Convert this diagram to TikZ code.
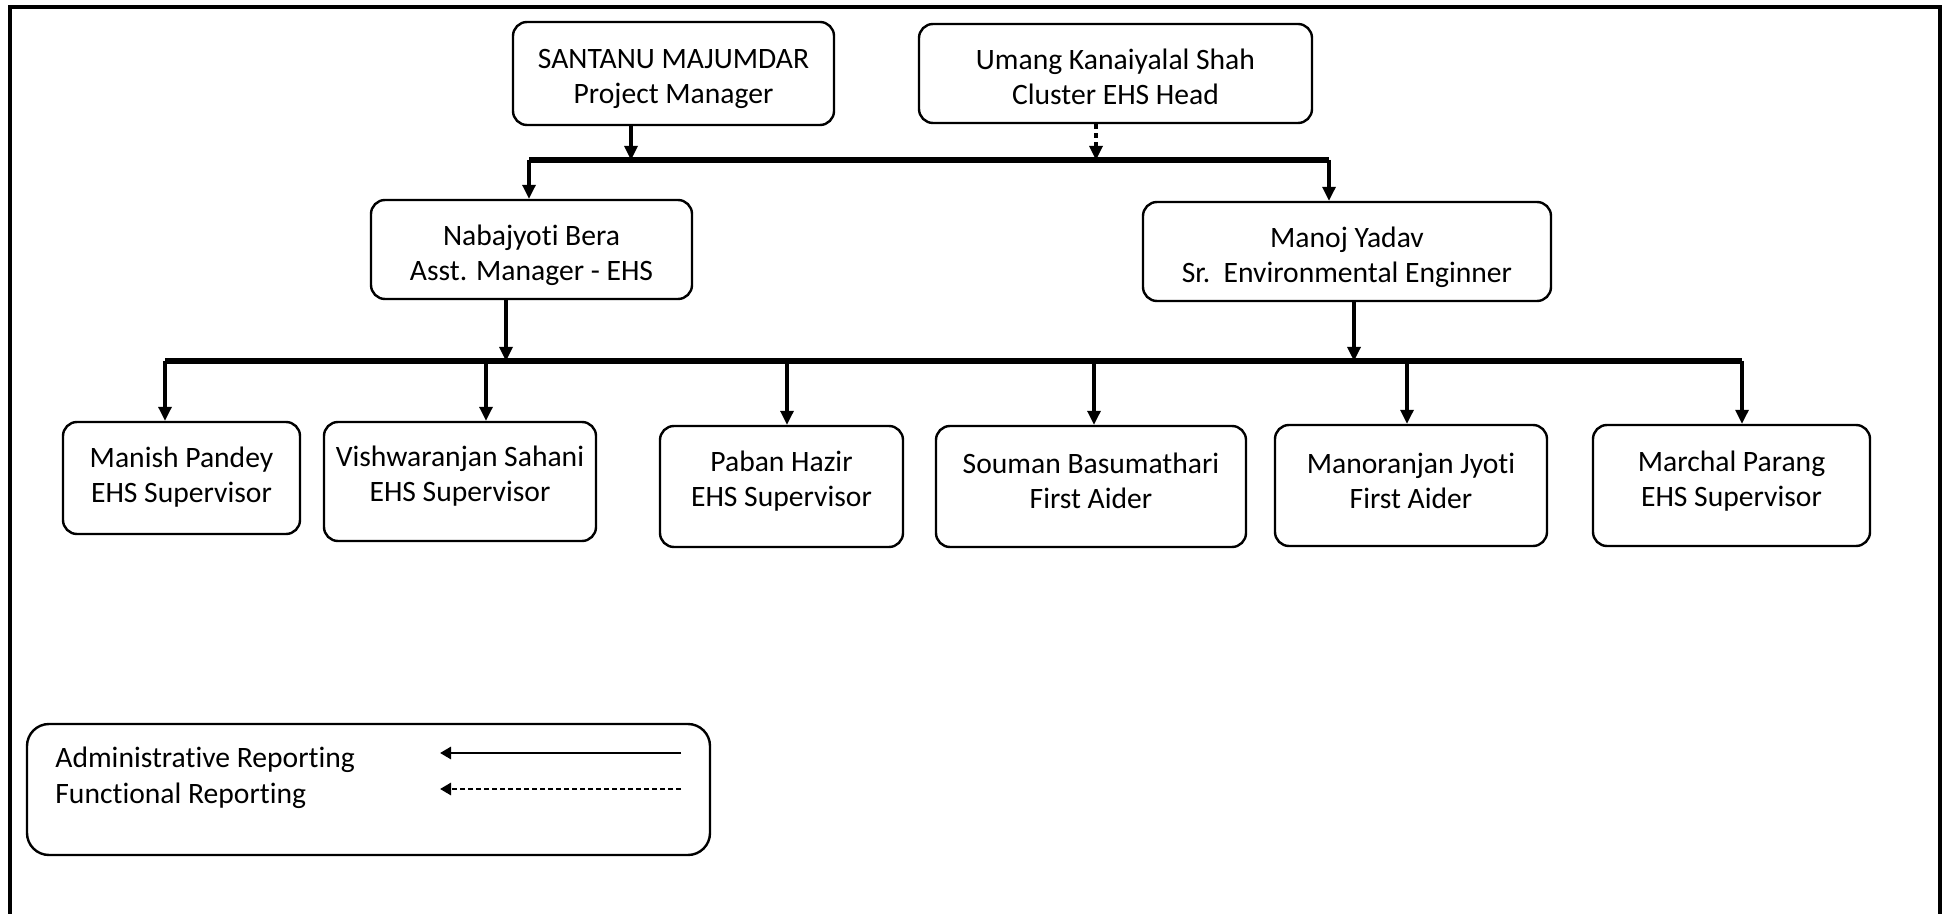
\documentclass[tikz,border=0pt]{standalone}
\usepackage{fontspec}
\setmainfont{Carlito}[Ligatures=CommonOff]
\usetikzlibrary{arrows.meta}
\begin{document}
\begin{tikzpicture}[x=0.5pt,y=-0.5pt,
  person/.style={draw,line width=1.2pt,rounded corners=7pt,inner sep=0pt},
  persontext/.style={align=center,font=\fontsize{14.8pt}{17.5pt}\selectfont,inner sep=0pt},
  bar/.style={line width=2.9pt},
  rep/.style={line width=1.6pt,-{Triangle[length=7pt,width=6.5pt]}},
  fun/.style={rep,dash pattern=on 2.5pt off 2pt},
  legtext/.style={anchor=west,font=\fontsize{14.8pt}{17.5pt}\selectfont,inner sep=0pt},
  legarrow/.style={line width=1.4pt,-{Triangle[length=5.5pt,width=6pt]}}]
\useasboundingbox (0,0) rectangle (1944,914);
% outer frame, open at the bottom
\draw[line width=2pt] (10,914) -- (10,7) -- (1940,7) -- (1940,914);

% management
\node[person,minimum width=160.5pt,minimum height=51.5pt] (santanu) at (673.5,73.5) {};
\node[persontext] (santanuT) at (673.5,79) {SANTANU MAJUMDAR\\Project Manager};
\node[person,minimum width=196.5pt,minimum height=49.5pt] (umang) at (1115.5,73.5) {};
\node[persontext] (umangT) at (1115.5,77) {Umang Kanaiyalal Shah\\Cluster EHS Head};
\node[person,minimum width=160.5pt,minimum height=49.5pt] (nabajyoti) at (531.5,249.5) {};
\node[persontext] (nabajyotiT) at (531.5,255) {Nabajyoti Bera\\Asst. Manager - EHS};
\node[person,minimum width=204pt,minimum height=49.5pt] (manoj) at (1347,251.5) {};
\node[persontext] (manojT) at (1347,257) {Manoj Yadav\\Sr.\ \ Environmental Enginner};

% field staff
\node[person,minimum width=118.5pt,minimum height=56pt] (manish) at (181.5,478) {};
\node[persontext] (manishT) at (181.5,477) {Manish Pandey\\EHS Supervisor};
\node[person,minimum width=136pt,minimum height=59.5pt] (vish) at (460,481.5) {};
\node[persontext] (vishT) at (460,476) {Vishwaranjan Sahani\\EHS Supervisor};
\node[person,minimum width=121.5pt,minimum height=60.5pt] (paban) at (781.5,486.5) {};
\node[persontext] (pabanT) at (781.5,481) {Paban Hazir\\EHS Supervisor};
\node[person,minimum width=155pt,minimum height=60.5pt] (souman) at (1091,486.5) {};
\node[persontext] (soumanT) at (1091,481) {Souman Basumathari\\First Aider};
\node[person,minimum width=136pt,minimum height=60.5pt] (manoranjan) at (1411,485.5) {};
\node[persontext] (manoranjanT) at (1411,481) {Manoranjan Jyoti\\First Aider};
\node[person,minimum width=138.5pt,minimum height=60.5pt] (marchal) at (1731.5,485.5) {};
\node[persontext] (marchalT) at (1731.5,481) {Marchal Parang\\EHS Supervisor};

% upper distribution bar
\coordinate (b1L) at (529,160);
\coordinate (b1R) at (1329,160);
\coordinate (b1s) at (631,160);
\coordinate (b1u) at (1096,160);
\draw[rep] (b1s |- santanu.south) -- (b1s);
\draw[fun] (b1u |- umang.south) -- (b1u);
\draw[bar] (b1L) -- (b1R);
\draw[rep] (b1L) -- (b1L |- nabajyoti.north);
\draw[rep] (b1R) -- (b1R |- manoj.north);

% lower distribution bar
\coordinate (b2L) at (165,361);
\coordinate (b2R) at (1742,361);
\coordinate (b2n) at (506,361);
\coordinate (b2m) at (1354,361);
\coordinate (b2v) at (486,361);
\coordinate (b2p) at (787,361);
\coordinate (b2s) at (1094,361);
\coordinate (b2j) at (1407,361);
\draw[rep] (b2n |- nabajyoti.south) -- (b2n);
\draw[rep] (b2m |- manoj.south) -- (b2m);
\draw[bar] (b2L) -- (b2R);
\draw[rep] (b2L) -- (b2L |- manish.north);
\draw[rep] (b2v) -- (b2v |- vish.north);
\draw[rep] (b2p) -- (b2p |- paban.north);
\draw[rep] (b2s) -- (b2s |- souman.north);
\draw[rep] (b2j) -- (b2j |- manoranjan.north);
\draw[rep] (b2R) -- (b2R |- marchal.north);

% legend
\node[draw,line width=1.2pt,rounded corners=11pt,minimum width=341.5pt,minimum height=65.5pt] (legend) at (368.5,789.5) {};
\node[legtext] (admin) at (55,760) {Administrative Reporting};
\node[legtext] (func) at (55,796) {Functional Reporting};
\coordinate (a1) at (681,753);
\coordinate (a2) at (440,753);
\coordinate (f1) at (681,789);
\coordinate (f2) at (440,789);
\draw[legarrow] (a1) -- (a2);
\draw[legarrow,dash pattern=on 2.4pt off 1.6pt] (f1) -- (f2);
\end{tikzpicture}
\end{document}
